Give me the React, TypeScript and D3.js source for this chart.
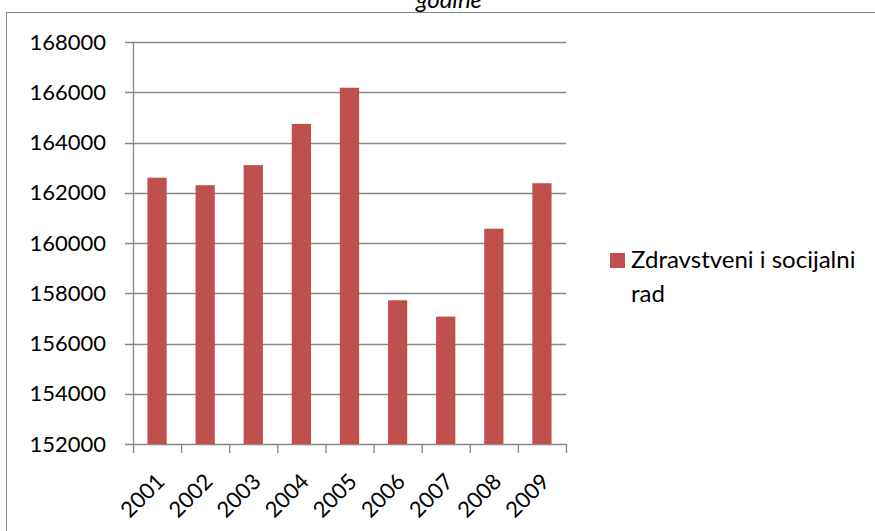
import React from "react";
import * as d3 from "d3";

const years = ["2001", "2002", "2003", "2004", "2005", "2006", "2007", "2008", "2009"];
const values = [162600, 162300, 163100, 164740, 166180, 157720, 157070, 160570, 162380];
const yTicks = [152000, 154000, 156000, 158000, 160000, 162000, 164000, 166000, 168000];
const seriesName = ["Zdravstveni i socijalni", "rad"];
const titleText = "godine";

const W = 875;
const H = 531;
const FONT = "Lato, 'Open Sans', sans-serif";
const BAR = "#C0504D";
const GRID = "#878787";

export default function App() {
  const left = 133;
  const right = 566;
  const top = 42;
  const bottom = 444;
  const x = d3.scaleBand<string>().domain(years).range([left, right]).paddingInner(0).paddingOuter(0);
  const y = d3.scaleLinear().domain([152000, 168000]).range([bottom, top]);
  const bw = x.bandwidth() * 0.4;

  return (
    <svg width={W} height={H} style={{ position: "absolute", left: 0, top: 0, background: "#fff" }} fontFamily={FONT}>
      <rect x={0} y={0} width={W} height={H} fill="#fff" />
      <text x={449} y={8} textAnchor="middle" fontSize={24} fontStyle="italic" fill="#000">{titleText}</text>
      <rect x={6.5} y={12.5} width={W + 10} height={H + 10} fill="none" stroke={GRID} strokeWidth={1} />
      {yTicks.map((t) => (
        <g key={t}>
          <line x1={left - 8} x2={right} y1={Math.round(y(t)) + 0.5} y2={Math.round(y(t)) + 0.5} stroke={GRID} strokeWidth={1.3} />
          <text x={106} y={y(t)} dy="0.35em" textAnchor="end" fontSize={22} fill="#000">{t}</text>
        </g>
      ))}
      <line x1={left + 0.5} x2={left + 0.5} y1={top} y2={bottom} stroke={GRID} strokeWidth={1.3} />
      {years.map((yr, i) => (
        <rect key={yr} x={x(yr)! + (x.bandwidth() - bw) / 2} y={y(values[i])} width={bw} height={bottom - y(values[i])} fill={BAR} />
      ))}
      {[...years.map((yr) => x(yr)!), right].map((px, i) => (
        <line key={i} x1={px + 0.5} x2={px + 0.5} y1={bottom} y2={bottom + 9} stroke={GRID} strokeWidth={1.3} />
      ))}
      {years.map((yr) => {
        const cx = x(yr)! + x.bandwidth() / 2 - 2;
        const cy = bottom + 28;
        return (
          <text key={yr} transform={`translate(${cx},${cy}) rotate(-45)`} textAnchor="end" dy="0.7em" fontSize={22} fill="#000">{yr}</text>
        );
      })}
      <rect x={610} y={253} width={15} height={15} fill={BAR} />
      <text x={631} y={268} fontSize={24} fill="#000">{seriesName[0]}</text>
      <text x={631} y={302} fontSize={24} fill="#000">{seriesName[1]}</text>
    </svg>
  );
}
